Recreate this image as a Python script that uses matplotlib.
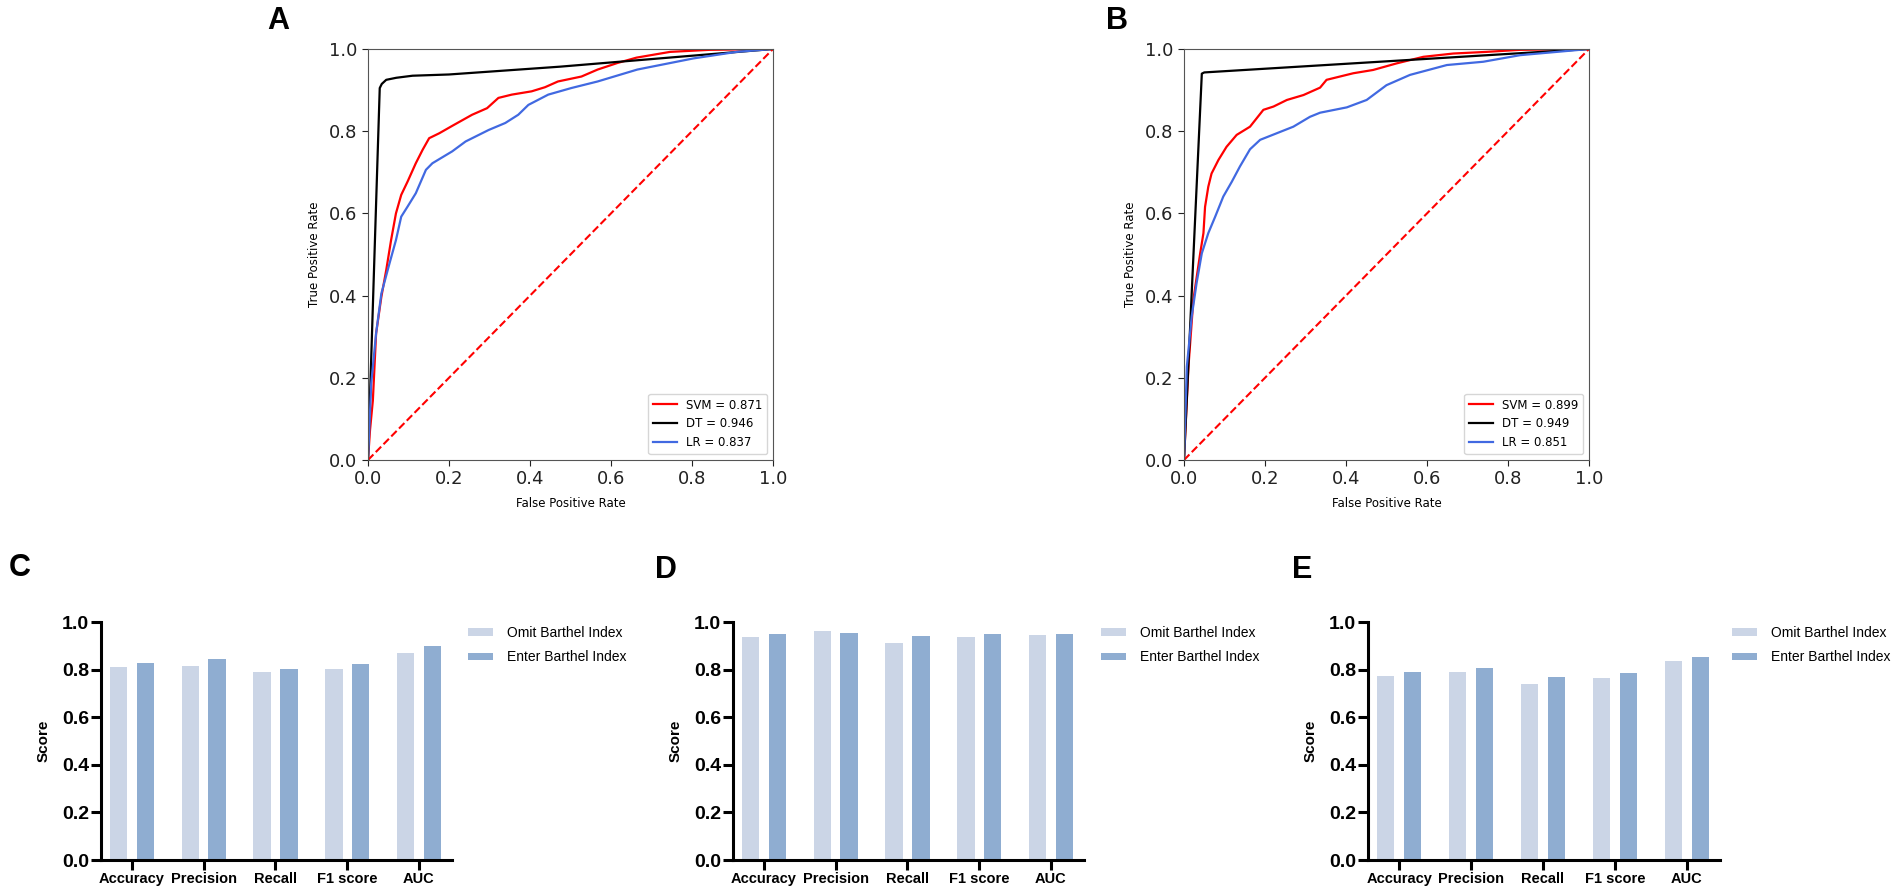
import matplotlib
matplotlib.use("Agg")
import matplotlib.pyplot as plt
import numpy as np

W, H = 1902, 896

# ---------------- data ----------------
roc_labels = ["SVM", "DT", "LR"]
roc_colors = ["red", "black", "royalblue"]

A_auc = [0.871, 0.946, 0.837]
B_auc = [0.899, 0.949, 0.851]

A_svm_fpr = [0, 0.005, 0.012, 0.020, 0.033, 0.045, 0.057, 0.069, 0.082, 0.098, 0.118, 0.135, 0.151, 0.176,
             0.208, 0.257, 0.294, 0.322, 0.355, 0.404, 0.437, 0.469, 0.527, 0.567, 0.616, 0.663, 0.746, 0.844, 1.0]
A_svm_tpr = [0, 0.073, 0.145, 0.308, 0.397, 0.462, 0.535, 0.600, 0.645, 0.678, 0.722, 0.755, 0.783, 0.795,
             0.813, 0.840, 0.856, 0.881, 0.889, 0.897, 0.907, 0.921, 0.933, 0.950, 0.966, 0.979, 0.993, 0.998, 1.0]
A_dt_fpr = [0, 0.029, 0.034, 0.045, 0.07, 0.11, 0.2, 0.474, 1.0]
A_dt_tpr = [0, 0.905, 0.915, 0.925, 0.930, 0.935, 0.938, 0.957, 1.0]
A_lr_fpr = [0, 0.008, 0.020, 0.033, 0.053, 0.069, 0.082, 0.098, 0.118, 0.143, 0.159, 0.208, 0.241, 0.298,
            0.339, 0.371, 0.396, 0.445, 0.502, 0.567, 0.665, 0.803, 0.910, 1.0]
A_lr_tpr = [0, 0.186, 0.308, 0.405, 0.478, 0.535, 0.592, 0.617, 0.649, 0.706, 0.722, 0.751, 0.775, 0.803,
            0.820, 0.840, 0.864, 0.889, 0.905, 0.921, 0.950, 0.977, 0.993, 1.0]

B_svm_fpr = [0, 0.011, 0.023, 0.040, 0.048, 0.052, 0.060, 0.068, 0.085, 0.105, 0.130, 0.163, 0.196, 0.221,
             0.254, 0.295, 0.336, 0.352, 0.418, 0.467, 0.525, 0.591, 0.665, 0.747, 0.830, 1.0]
B_svm_tpr = [0, 0.227, 0.389, 0.503, 0.552, 0.616, 0.665, 0.697, 0.730, 0.762, 0.791, 0.811, 0.852, 0.860,
             0.876, 0.888, 0.906, 0.925, 0.941, 0.949, 0.965, 0.981, 0.989, 0.993, 0.998, 1.0]
B_dt_fpr = [0, 0.044, 0.05, 1.0]
B_dt_tpr = [0, 0.940, 0.943, 1.0]
B_lr_fpr = [0, 0.007, 0.019, 0.031, 0.044, 0.060, 0.077, 0.097, 0.118, 0.138, 0.163, 0.188, 0.229, 0.270,
            0.311, 0.336, 0.402, 0.451, 0.500, 0.558, 0.649, 0.739, 0.830, 1.0]
B_lr_tpr = [0, 0.227, 0.349, 0.430, 0.503, 0.552, 0.592, 0.641, 0.677, 0.714, 0.756, 0.779, 0.795, 0.811,
            0.835, 0.845, 0.858, 0.876, 0.912, 0.937, 0.961, 0.969, 0.985, 1.0]

metrics = ["Accuracy", "Precision", "Recall", "F1 score", "AUC"]
series_names = ["Omit Barthel Index", "Enter Barthel Index"]
C_omit = [0.809, 0.816, 0.792, 0.804, 0.871]
C_enter = [0.827, 0.844, 0.801, 0.823, 0.899]
D_omit = [0.938, 0.963, 0.911, 0.935, 0.946]
D_enter = [0.949, 0.955, 0.942, 0.948, 0.949]
E_omit = [0.774, 0.789, 0.741, 0.764, 0.837]
E_enter = [0.792, 0.806, 0.767, 0.785, 0.851]
bar_colors = ["#CBD5E6", "#8FADD1"]
y_ticks = [0.0, 0.2, 0.4, 0.6, 0.8, 1.0]

# ---------------- figure ----------------
fig = plt.figure(figsize=(W / 100, H / 100), dpi=100)


def rect(x, top, w, h):
    return [x / W, 1 - (top + h) / H, w / W, h / H]


def roc_panel(ax, curves, aucs):
    for (fpr, tpr), name, col, auc in zip(curves, roc_labels, roc_colors, aucs):
        ax.plot(fpr, tpr, color=col, lw=1.6, label=f"{name} = {auc:.3f}")
    ax.plot([0, 1], [0, 1], color="red", lw=1.5, ls="--")
    ax.set_xlim(0, 1)
    ax.set_ylim(0, 1)
    ax.set_xticks(y_ticks)
    ax.set_yticks(y_ticks)
    ax.tick_params(labelsize=13, colors="#222222", length=4)
    for s in ax.spines.values():
        s.set_color("#555555")
    ax.set_xlabel("False Positive Rate", fontsize=8.5, labelpad=6)
    ax.set_ylabel("True Positive Rate", fontsize=8.5, labelpad=6)
    ax.legend(loc="lower right", fontsize=8.5)


axA = fig.add_axes(rect(368, 49, 405, 411))
roc_panel(axA, [(A_svm_fpr, A_svm_tpr), (A_dt_fpr, A_dt_tpr), (A_lr_fpr, A_lr_tpr)], A_auc)
axB = fig.add_axes(rect(1184, 49, 405, 411))
roc_panel(axB, [(B_svm_fpr, B_svm_tpr), (B_dt_fpr, B_dt_tpr), (B_lr_fpr, B_lr_tpr)], B_auc)

bold_font = "Liberation Sans"


def bar_panel(ax, omit, enter, legend_xy):
    x = np.arange(len(metrics))
    w = 0.245
    ax.bar(x - 0.187, omit, width=w, color=bar_colors[0], label=series_names[0])
    ax.bar(x + 0.187, enter, width=w, color=bar_colors[1], label=series_names[1])
    ax.set_xlim(-0.432, 4.46)
    ax.set_ylim(0, 1.0)
    ax.set_yticks(y_ticks)
    ax.set_yticklabels([f"{t:.1f}" for t in y_ticks], fontfamily=bold_font, fontweight="bold", fontsize=14)
    ax.set_xticks(x)
    ax.set_xticklabels(metrics, fontfamily=bold_font, fontweight="bold", fontsize=10.5)
    ax.spines["top"].set_visible(False)
    ax.spines["right"].set_visible(False)
    for s in ("left", "bottom"):
        ax.spines[s].set_linewidth(2.2)
        ax.spines[s].set_color("black")
    ax.tick_params(axis="both", width=2.2, length=7, color="black", pad=1.5)
    ax.set_ylabel("Score", fontfamily=bold_font, fontweight="bold", fontsize=11, labelpad=8)
    ax.legend(loc="upper left", bbox_to_anchor=(legend_xy[0] / W, 1 - legend_xy[1] / H),
              bbox_transform=fig.transFigure, frameon=False, borderpad=0, borderaxespad=0,
              handlelength=1.8, handleheight=0.5, handletextpad=1.0, labelspacing=0.75,
              prop={"family": bold_font, "size": 10})


axC = fig.add_axes(rect(101, 622, 351, 238))
bar_panel(axC, C_omit, C_enter, (468, 626))
axD = fig.add_axes(rect(733, 622, 351, 238))
bar_panel(axD, D_omit, D_enter, (1101, 626))
axE = fig.add_axes(rect(1368, 622, 352, 238))
bar_panel(axE, E_omit, E_enter, (1732, 626))

# panel letters
for letter, px, py in [("A", 278, 21), ("B", 1117, 21), ("C", 20, 568), ("D", 666, 570), ("E", 1302, 570)]:
    fig.text(px / W, 1 - py / H, letter, fontsize=22, fontweight="bold", fontfamily=bold_font,
             ha="center", va="center")

fig.savefig("out.png", dpi=100)
